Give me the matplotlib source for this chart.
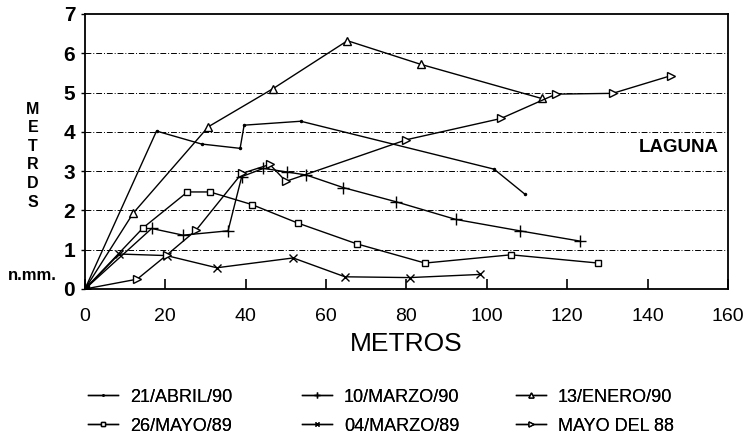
import matplotlib
matplotlib.use("Agg")
import matplotlib.pyplot as plt
import numpy as np

plt.rcParams['font.family'] = ['Liberation Sans Narrow', 'Liberation Sans', 'DejaVu Sans']

# perfiles de playa (distancia en metros, altura en metros)
abril90_x = [0, 17.8, 29, 38.6, 39.6, 53.7, 101.8, 109.5]
abril90_y = [0, 4.02, 3.69, 3.58, 4.17, 4.27, 3.05, 2.41]

marzo90_x = [0, 16.6, 24.4, 35.6, 39, 44.4, 50.2, 55.1, 64.3, 77.4, 92.3, 108.2, 123.1]
marzo90_y = [0, 1.54, 1.37, 1.48, 2.86, 3.07, 2.98, 2.9, 2.58, 2.22, 1.77, 1.48, 1.22]

enero90_x = [0, 12, 30.7, 46.8, 65.3, 83.5, 113.6]
enero90_y = [0, 1.93, 4.13, 5.1, 6.32, 5.72, 4.85]

mayo89_x = [0, 14.5, 25.5, 31.1, 41.5, 52.9, 67.6, 84.6, 106, 127.7]
mayo89_y = [0, 1.56, 2.47, 2.47, 2.15, 1.68, 1.15, 0.66, 0.87, 0.66]

marzo89_x = [0, 8.5, 20.3, 32.8, 51.8, 64.7, 80.8, 98.3]
marzo89_y = [0, 0.89, 0.85, 0.54, 0.79, 0.31, 0.29, 0.37]

mayo88_x = [0, 13, 20.3, 27.6, 39, 46, 50, 80, 103.5, 117.2, 131.3, 145.8]
mayo88_y = [0, 0.25, 0.86, 1.49, 2.94, 3.17, 2.74, 3.8, 4.34, 4.96, 4.98, 5.43]

labels = ['21/ABRIL/90', '10/MARZO/90', '13/ENERO/90',
          '26/MAYO/89', '04/MARZO/89', 'MAYO DEL 88']

x_ticks = [0, 20, 40, 60, 80, 100, 120, 140, 160]
y_ticks = [0, 1, 2, 3, 4, 5, 6, 7]

fig = plt.figure(figsize=(7.46, 4.36), dpi=100)
ax = fig.add_axes([0.1139, 0.3372, 0.862, 0.6307])

for yv in y_ticks[1:-1]:
    ax.axhline(yv, color='black', lw=0.7, ls=(0, (6, 2, 1, 2)), zorder=1)

kw = dict(color='black', lw=1.0, zorder=3)
h1, = ax.plot(abril90_x, abril90_y, marker='.', ms=3, **kw)
h2, = ax.plot(marzo90_x, marzo90_y, marker='+', ms=8, mew=1.0, **kw)
h3, = ax.plot(enero90_x, enero90_y, marker='^', ms=6, mfc='white', mew=1.0, **kw)
h4, = ax.plot(mayo89_x, mayo89_y, marker='s', ms=5, mfc='white', mew=1.0, **kw)
h5, = ax.plot(marzo89_x, marzo89_y, marker='x', ms=6, mew=1.0, **kw)
h6, = ax.plot(mayo88_x, mayo88_y, marker='>', ms=6, mfc='white', mew=1.0, **kw)
ax.plot([0], [0], marker='s', ms=6, color='black', zorder=4)

ax.set_xlim(0, 160)
ax.set_ylim(0, 7)
ax.set_xticks(x_ticks)
ax.set_yticks(y_ticks)
ax.tick_params(axis='x', direction='in', length=7, width=1.2, pad=13.5, labelsize=14)
ax.tick_params(axis='y', direction='out', length=3, width=1.0, pad=4, labelsize=15)
for t in ax.get_yticklabels():
    t.set_fontweight('bold')
    t.set_family(['Liberation Sans', 'DejaVu Sans'])
for s in ax.spines.values():
    s.set_linewidth(1.3)

ax.set_xlabel('METROS', fontsize=19, labelpad=5)

# etiqueta vertical del eje y, letra por letra
for i, ch in enumerate('METRDS'):
    fig.text(33 / 746, 1 - (109 + i * 18.6) / 436, ch, fontsize=11.5, fontweight='bold',
             ha='center', va='center', family=['Liberation Sans', 'DejaVu Sans'])
fig.text(32 / 746, 1 - 276 / 436, 'n.mm.', fontsize=12, fontweight='bold',
         ha='center', va='center', family=['Liberation Sans', 'DejaVu Sans'])
ax.text(147.7, 3.59, 'LAGUNA', fontsize=13.5, fontweight='bold', ha='center', va='center',
        family=['Liberation Sans', 'DejaVu Sans'])

handles = [h1, h2, h3, h4, h5, h6]
cols = [(0, 3, 88), (1, 4, 302), (2, 5, 516)]
for a, b, xpos in cols:
    leg = fig.legend([handles[a], handles[b]], [labels[a], labels[b]],
                     loc='upper left', bbox_to_anchor=(xpos / 746, 1 - 388.5 / 436),
                     frameon=False, fontsize=13, handlelength=1.66, handletextpad=0.66,
                     labelspacing=0.67, markerscale=0.6, borderaxespad=0, borderpad=0)
    fig.add_artist(leg)

fig.savefig('out.png', dpi=100)
